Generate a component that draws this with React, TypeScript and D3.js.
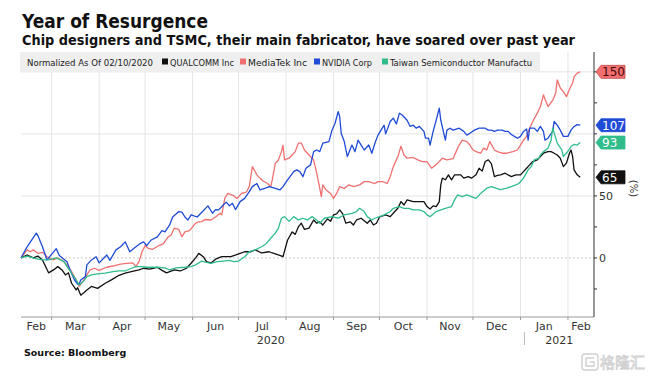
import React from "react";
import * as d3 from "d3";

const W = 656;
const H = 377;

const title = "Year of Resurgence";
const subtitle = "Chip designers and TSMC, their main fabricator, have soared over past year";
const legendNote = "Normalized As Of 02/10/2020";
const source = "Source: Bloomberg";
const seriesNames = ["QUALCOMM Inc", "MediaTek Inc", "NVIDIA Corp", "Taiwan Semiconductor Manufactu"];
const seriesColors = ["#111111", "#f07070", "#1f4bd6", "#30bd8b"];
const calloutText = ["#ffffff", "#4a0a0a", "#ffffff", "#ffffff"];
const yTicksLabelled = [0, 50];
const yGrid = [0, 50, 100, 150];
const yTicksMinor = [-25, 0, 25, 50, 75, 100, 125, 150];

type P = [string, number];

const qualcomm: P[] = [
  ["2020-02-10",0],["2020-02-14",2.4],["2020-02-18",0],["2020-02-21",1.5],["2020-02-24",-1.6],["2020-02-28",-12],
  ["2020-03-03",-9],["2020-03-05",-7],["2020-03-08",-10],["2020-03-10",-13.7],["2020-03-12",-12],["2020-03-14",-20.4],
  ["2020-03-17",-25.8],["2020-03-18",-24],["2020-03-20",-30],["2020-03-22",-28],["2020-03-24",-25.8],["2020-03-27",-23],
  ["2020-03-31",-24.5],["2020-04-05",-20.4],["2020-04-09",-17.7],["2020-04-14",-14],["2020-04-18",-12.3],["2020-04-22",-11],
  ["2020-04-27",-9.7],["2020-04-30",-8.3],["2020-05-04",-9],["2020-05-09",-7.5],["2020-05-12",-10],["2020-05-15",-12],
  ["2020-05-20",-9.7],["2020-05-24",-10.5],["2020-05-28",-8.3],["2020-05-31",-4.3],["2020-06-03",0],["2020-06-05",3.7],
  ["2020-06-08",1],["2020-06-10",-3],["2020-06-13",-4],["2020-06-16",-1],["2020-06-20",1],["2020-06-26",1],
  ["2020-07-02",3.7],["2020-07-05",5],["2020-07-09",5],["2020-07-12",6.5],["2020-07-16",4],["2020-07-21",5],
  ["2020-07-23",4],["2020-07-27",2.4],["2020-07-30",1],["2020-08-02",14.5],["2020-08-05",21],["2020-08-07",19],
  ["2020-08-09",25],["2020-08-11",28],["2020-08-13",23],["2020-08-16",24],["2020-08-19",30.6],["2020-08-21",28],
  ["2020-08-23",29],["2020-08-25",26.6],["2020-08-28",31.5],["2020-08-30",29.5],["2020-09-01",34.7],["2020-09-03",35.5],
  ["2020-09-05",38.7],["2020-09-07",35.5],["2020-09-09",28],["2020-09-12",29],["2020-09-14",26.6],["2020-09-16",30.6],
  ["2020-09-19",32],["2020-09-23",28],["2020-09-25",30.6],["2020-09-27",26.6],["2020-09-29",28],["2020-10-01",33],
  ["2020-10-05",34.7],["2020-10-08",33.3],["2020-10-11",37.4],["2020-10-13",40],["2020-10-15",45.4],["2020-10-17",42.7],
  ["2020-10-19",46.8],["2020-10-23",45.4],["2020-10-27",45.4],["2020-10-30",45.4],["2020-11-01",41.4],["2020-11-03",39.5],
  ["2020-11-05",42],["2020-11-07",41.4],["2020-11-09",45.4],["2020-11-10",58.9],["2020-11-11",64.3],["2020-11-13",63],
  ["2020-11-15",67],["2020-11-17",63],["2020-11-19",67],["2020-11-23",67],["2020-11-25",64.3],["2020-11-28",65.5],
  ["2020-11-30",64.3],["2020-12-03",67],["2020-12-05",72.3],["2020-12-07",70],["2020-12-09",77.7],["2020-12-11",79],
  ["2020-12-13",76],["2020-12-15",65.5],["2020-12-17",66.5],["2020-12-19",67],["2020-12-22",68.3],["2020-12-26",65.5],
  ["2020-12-29",67],["2021-01-01",67],["2021-01-03",69.6],["2021-01-05",72.3],["2021-01-07",75],["2021-01-09",77.7],
  ["2021-01-12",79],["2021-01-14",81.7],["2021-01-16",84.4],["2021-01-19",85.7],["2021-01-21",85.7],["2021-01-23",84.4],
  ["2021-01-25",83],["2021-01-27",80.4],["2021-01-29",73.6],["2021-01-31",76.4],["2021-02-02",84.4],["2021-02-03",87],
  ["2021-02-04",82],["2021-02-05",71],["2021-02-07",67],["2021-02-09",65],
];

const mediatek: P[] = [
  ["2020-02-10",0],["2020-02-14",6.5],["2020-02-16",5],["2020-02-18",6.5],["2020-02-21",3.7],["2020-02-24",4.5],
  ["2020-02-27",1],["2020-03-02",-1.6],["2020-03-05",0],["2020-03-09",-3],["2020-03-12",-7],["2020-03-14",-11],
  ["2020-03-17",-17.7],["2020-03-19",-23],["2020-03-22",-17.7],["2020-03-24",-13.7],["2020-03-26",-9.7],["2020-03-29",-8.3],
  ["2020-04-01",-10],["2020-04-06",-7.5],["2020-04-10",-6.5],["2020-04-15",-5],["2020-04-19",-4.3],["2020-04-23",-4],
  ["2020-04-25",-7],["2020-04-27",-3],["2020-04-29",5],["2020-05-01",10],["2020-05-03",7.8],["2020-05-06",7],
  ["2020-05-10",10],["2020-05-13",11.5],["2020-05-16",17],["2020-05-18",18.5],["2020-05-20",24],["2020-05-23",23],
  ["2020-05-25",17],["2020-05-27",21],["2020-05-30",22],["2020-06-03",28],["2020-06-05",29],["2020-06-07",29.3],
  ["2020-06-09",31],["2020-06-13",30.6],["2020-06-16",33],["2020-06-19",36],["2020-06-20",34.7],["2020-06-22",48],
  ["2020-06-24",52],["2020-06-28",50],["2020-06-30",48],["2020-07-03",52],["2020-07-06",53],["2020-07-08",57.5],
  ["2020-07-09",65.5],["2020-07-10",73.6],["2020-07-13",67],["2020-07-15",64.3],["2020-07-17",62],["2020-07-20",60],
  ["2020-07-22",57.5],["2020-07-23",63],["2020-07-25",76.4],["2020-07-27",79],["2020-07-29",85.7],["2020-07-30",91],
  ["2020-07-31",79],["2020-08-03",80.4],["2020-08-05",83],["2020-08-07",85.7],["2020-08-09",92.5],["2020-08-11",92.5],
  ["2020-08-13",87],["2020-08-16",83],["2020-08-19",79],["2020-08-21",68.3],["2020-08-23",56.2],["2020-08-24",49.4],
  ["2020-08-25",58.9],["2020-08-27",55],["2020-08-30",52],["2020-09-01",48],["2020-09-03",52],["2020-09-05",57.5],
  ["2020-09-08",56],["2020-09-11",58.9],["2020-09-14",57.5],["2020-09-18",58.9],["2020-09-21",61.5],["2020-09-24",61.5],
  ["2020-09-28",60],["2020-09-30",61.5],["2020-10-03",61.5],["2020-10-06",60],["2020-10-08",65.5],["2020-10-10",73.6],
  ["2020-10-13",81.7],["2020-10-15",90],["2020-10-17",83],["2020-10-19",80.4],["2020-10-23",81],["2020-10-26",79],
  ["2020-10-29",77.7],["2020-11-01",77.7],["2020-11-04",72.3],["2020-11-08",76.4],["2020-11-11",80.4],["2020-11-14",79],
  ["2020-11-18",80],["2020-11-20",85.7],["2020-11-22",91],["2020-11-24",95],["2020-11-27",93.8],["2020-11-29",91],
  ["2020-12-01",87],["2020-12-03",85.7],["2020-12-06",84.4],["2020-12-08",88.5],["2020-12-10",87],["2020-12-12",93.8],
  ["2020-12-15",87],["2020-12-17",85.7],["2020-12-20",84.4],["2020-12-23",84.4],["2020-12-27",85.7],["2020-12-30",87],
  ["2021-01-01",91],["2021-01-03",95],["2021-01-05",98],["2021-01-07",104.6],["2021-01-09",110],["2021-01-12",116.7],
  ["2021-01-14",122],["2021-01-16",131.5],["2021-01-17",128],["2021-01-19",122],["2021-01-22",127],["2021-01-24",132.8],
  ["2021-01-25",143.5],["2021-01-27",137],["2021-01-29",134],["2021-01-31",130],["2021-02-02",136],["2021-02-04",141],
  ["2021-02-05",146],["2021-02-07",149],["2021-02-09",150],
];

const nvidia: P[] = [
  ["2020-02-10",0],["2020-02-14",9],["2020-02-20",20],["2020-02-21",18],["2020-02-24",9],["2020-02-27",-1.6],
  ["2020-03-02",4.5],["2020-03-04",7.5],["2020-03-06",2],["2020-03-09",-1],["2020-03-11",-3],["2020-03-13",-9.7],
  ["2020-03-16",-18],["2020-03-18",-21],["2020-03-19",-21],["2020-03-20",-17.7],["2020-03-23",-15],["2020-03-24",-5.6],
  ["2020-03-27",-1.6],["2020-03-30",1],["2020-04-01",-4],["2020-04-06",2.4],["2020-04-08",-2],["2020-04-12",6.5],
  ["2020-04-15",9],["2020-04-18",13],["2020-04-21",5],["2020-04-24",8],["2020-04-28",11.8],["2020-04-30",13],
  ["2020-05-02",10],["2020-05-05",14.5],["2020-05-09",17],["2020-05-12",22],["2020-05-14",21],["2020-05-17",26.6],
  ["2020-05-19",33],["2020-05-23",37.4],["2020-05-25",37],["2020-05-27",33],["2020-05-29",30.6],["2020-05-31",34.7],
  ["2020-06-04",33],["2020-06-08",38],["2020-06-11",42],["2020-06-14",36],["2020-06-16",39],["2020-06-18",38.7],
  ["2020-06-21",42.7],["2020-06-23",45],["2020-06-25",42],["2020-06-27",44],["2020-06-29",39],["2020-07-02",45.4],
  ["2020-07-05",48],["2020-07-08",53.5],["2020-07-10",57.5],["2020-07-13",60],["2020-07-15",54.8],["2020-07-18",56],
  ["2020-07-21",57.5],["2020-07-25",56],["2020-07-28",54.8],["2020-07-30",57.5],["2020-08-02",63],["2020-08-06",69.6],
  ["2020-08-08",71],["2020-08-10",69.6],["2020-08-12",65.5],["2020-08-14",72.3],["2020-08-17",75],["2020-08-19",85.7],
  ["2020-08-21",87],["2020-08-23",85.7],["2020-08-25",92.5],["2020-08-29",93.8],["2020-08-31",103],["2020-09-02",108.6],
  ["2020-09-04",118],["2020-09-05",114],["2020-09-06",100.5],["2020-09-08",93.8],["2020-09-10",81.7],["2020-09-13",91],
  ["2020-09-15",85.7],["2020-09-17",95],["2020-09-19",91],["2020-09-21",87],["2020-09-24",91],["2020-09-26",84.4],
  ["2020-09-28",92.5],["2020-09-30",99],["2020-10-02",103],["2020-10-04",107],["2020-10-05",100],["2020-10-08",110],
  ["2020-10-10",112.7],["2020-10-12",108],["2020-10-14",116.7],["2020-10-16",115],["2020-10-19",111],["2020-10-21",106],
  ["2020-10-23",107],["2020-10-25",104.6],["2020-10-27",106],["2020-10-30",102],["2020-10-31",96.5],["2020-11-02",96.5],
  ["2020-11-03",91],["2020-11-05",102],["2020-11-07",111],["2020-11-09",120.7],["2020-11-10",111],["2020-11-13",95],
  ["2020-11-14",103],["2020-11-16",104.6],["2020-11-18",103],["2020-11-22",104.6],["2020-11-25",102],["2020-11-27",99],
  ["2020-11-29",100.5],["2020-12-02",103],["2020-12-05",104.6],["2020-12-09",104.6],["2020-12-11",103],["2020-12-13",103],
  ["2020-12-15",102],["2020-12-17",103],["2020-12-20",103],["2020-12-22",102],["2020-12-24",102],["2020-12-26",99.5],
  ["2020-12-28",98],["2020-12-30",96.5],["2021-01-01",98],["2021-01-03",102],["2021-01-05",104],["2021-01-06",95],
  ["2021-01-07",104.6],["2021-01-10",104.6],["2021-01-12",102],["2021-01-14",106],["2021-01-16",102],["2021-01-17",95],
  ["2021-01-19",96.5],["2021-01-22",102],["2021-01-23",110],["2021-01-25",107],["2021-01-27",103],["2021-01-29",98],
  ["2021-02-01",98],["2021-02-03",103],["2021-02-05",106],["2021-02-07",107.5],["2021-02-09",107],
];

const tsmc: P[] = [
  ["2020-02-10",0],["2020-02-14",1.5],["2020-02-18",0],["2020-02-21",-1],["2020-02-24",-1.6],["2020-02-28",-1.6],
  ["2020-03-04",0],["2020-03-09",-3],["2020-03-11",-7],["2020-03-14",-12.3],["2020-03-17",-17.7],["2020-03-19",-21.8],
  ["2020-03-22",-18.5],["2020-03-24",-15],["2020-03-27",-13.7],["2020-03-31",-12.8],["2020-04-05",-12.3],["2020-04-10",-11],
  ["2020-04-14",-10.5],["2020-04-18",-10.5],["2020-04-22",-8.3],["2020-04-25",-7],["2020-04-29",-7],["2020-05-02",-7.5],
  ["2020-05-08",-7.5],["2020-05-14",-8],["2020-05-17",-9.7],["2020-05-21",-8],["2020-05-27",-7.5],["2020-05-31",-7],
  ["2020-06-03",-5.6],["2020-06-07",-2.5],["2020-06-10",-3.5],["2020-06-13",-4.3],["2020-06-17",-3],["2020-06-21",-2.5],
  ["2020-06-25",-2],["2020-06-28",-3],["2020-07-01",-2.5],["2020-07-05",1],["2020-07-08",5],["2020-07-12",6.5],
  ["2020-07-16",9],["2020-07-19",11.5],["2020-07-22",15.9],["2020-07-25",20],["2020-07-27",24],["2020-07-29",32],
  ["2020-07-31",33.3],["2020-08-03",29.5],["2020-08-06",33.3],["2020-08-09",30.6],["2020-08-12",32],["2020-08-15",30.6],
  ["2020-08-18",33.3],["2020-08-21",30.6],["2020-08-23",28],["2020-08-26",32],["2020-08-31",33.3],["2020-09-04",32],
  ["2020-09-08",34.7],["2020-09-13",36],["2020-09-16",37.4],["2020-09-18",40],["2020-09-21",37.4],["2020-09-23",33.3],
  ["2020-09-26",30.6],["2020-09-28",32],["2020-10-01",33.3],["2020-10-04",34.7],["2020-10-08",37.4],["2020-10-10",40],
  ["2020-10-14",41.4],["2020-10-17",40],["2020-10-20",40],["2020-10-23",38.7],["2020-10-27",38.7],["2020-10-30",37.4],
  ["2020-11-01",34.7],["2020-11-03",33.3],["2020-11-07",37.4],["2020-11-10",38.7],["2020-11-13",40],["2020-11-17",41.4],
  ["2020-11-19",46.8],["2020-11-21",50.8],["2020-11-24",49.5],["2020-11-27",50.8],["2020-11-30",49.5],["2020-12-03",48],
  ["2020-12-06",52],["2020-12-10",56.2],["2020-12-13",57.5],["2020-12-16",56.2],["2020-12-19",55],["2020-12-23",56.2],
  ["2020-12-26",57.5],["2020-12-29",58.9],["2020-12-31",60],["2021-01-03",64.3],["2021-01-06",71],["2021-01-08",73.6],
  ["2021-01-10",79],["2021-01-13",80.4],["2021-01-14",83],["2021-01-16",85.7],["2021-01-19",88.5],["2021-01-21",95],
  ["2021-01-22",104.6],["2021-01-23",101],["2021-01-25",92.5],["2021-01-28",87],["2021-01-29",81.7],["2021-02-01",86],
  ["2021-02-03",89.8],["2021-02-05",91.5],["2021-02-07",91],["2021-02-09",93],
];

const allSeries = [qualcomm, mediatek, nvidia, tsmc];
const parse = d3.timeParse("%Y-%m-%d");

export default function App() {
  const left = 21, right = 594, top = 52, bottom = 317;
  const x = d3.scaleTime().domain([new Date(2020, 1, 10), new Date(2021, 1, 18)]).range([left, right]);
  const y = d3.scaleLinear().domain([-47.6, 166]).range([bottom, top]);
  const line = d3.line<P>().x((d) => x(parse(d[0]) as Date)).y((d) => y(d[1]));

  const monthStarts = d3.timeMonth.range(new Date(2020, 2, 1), new Date(2021, 1, 2));
  const monthBounds = [x.domain()[0], ...monthStarts, x.domain()[1]];
  const monthLabels = monthBounds.slice(0, -1).map((d, i) => {
    const a = x(d), b = x(monthBounds[i + 1]);
    return { label: d3.timeFormat("%b")(d), cx: (a + b) / 2 };
  });
  const jan2021 = x(new Date(2021, 0, 1));

  const legendX = [162, 240, 314, 382];
  const legendW = [64, 59, 50, 142];
  const font = "'DejaVu Sans', sans-serif";
  const condensed = "'DejaVu Sans Condensed', 'DejaVu Sans', sans-serif";

  return (
    <svg width={W} height={H} style={{ position: "absolute", left: 0, top: 0, background: "#fff" }}>
      <rect width={W} height={H} fill="#fff" />
      <text x={22} y={28} fontFamily={font} fontWeight={700} fontSize={19} fill="#111"
        textLength={186} lengthAdjust="spacingAndGlyphs">{title}</text>
      <text x={22} y={45} fontFamily={font} fontWeight={700} fontSize={14.5} fill="#111"
        textLength={553} lengthAdjust="spacingAndGlyphs">{subtitle}</text>

      {/* grid */}
      {monthStarts.map((d, i) => (
        <line key={"vg" + i} x1={x(d)} x2={x(d)} y1={top} y2={bottom} stroke="#e4e4e4" strokeWidth={1} />
      ))}
      {yGrid.map((v) => (
        <line key={"hg" + v} x1={left} x2={right} y1={y(v)} y2={y(v)} stroke={v === 0 ? "#c8c8c8" : "#e4e4e4"}
          strokeWidth={1} strokeDasharray={v === 0 ? "2,2" : undefined} />
      ))}

      {/* legend */}
      <rect x={20} y={52} width={520} height={20} fill="#efefef" />
      <text x={27} y={66} fontFamily={condensed} fontStretch="condensed" fontSize={9} fill="#222"
        textLength={126} lengthAdjust="spacingAndGlyphs">{legendNote}</text>
      {seriesNames.map((n, i) => (
        <g key={n}>
          <rect x={legendX[i]} y={58.5} width={6} height={6} fill={seriesColors[i]} />
          <text x={legendX[i] + 8} y={66} fontFamily={condensed} fontStretch="condensed" fontSize={9} fill="#222"
            textLength={legendW[i]} lengthAdjust="spacingAndGlyphs">{n}</text>
        </g>
      ))}

      {/* lines */}
      {allSeries.map((s, i) => (
        <path key={"l" + i} d={line(s) ?? ""} fill="none" stroke={seriesColors[i]} strokeWidth={1.3} strokeLinejoin="round" />
      ))}

      {/* x axis */}
      <line x1={left} x2={right} y1={bottom} y2={bottom} stroke="#999" strokeWidth={1} />
      {monthStarts.map((d, i) => (
        <line key={"xt" + i} x1={x(d)} x2={x(d)} y1={bottom} y2={bottom + 3} stroke="#999" />
      ))}
      {monthLabels.map((m, i) => (
        <text key={"ml" + i} x={m.cx} y={330} textAnchor="middle" fontFamily={font} fontSize={11} fill="#333">{m.label}</text>
      ))}
      <text x={(left + jan2021) / 2} y={344} textAnchor="middle" fontFamily={font} fontSize={11} fill="#333">2020</text>
      <text x={(jan2021 + right) / 2 + 2} y={344} textAnchor="middle" fontFamily={font} fontSize={11} fill="#333">2021</text>
      <line x1={jan2021 + 4} x2={jan2021 + 4} y1={332} y2={345} stroke="#bbb" />

      {/* right axis */}
      <line x1={right} x2={right} y1={top} y2={bottom} stroke="#333" strokeWidth={1} />
      {yTicksMinor.map((v) => (
        <line key={"yt" + v} x1={right} x2={right + 3} y1={y(v)} y2={y(v)} stroke="#333" />
      ))}
      {yTicksLabelled.map((v) => (
        <text key={"yl" + v} x={599} y={y(v) + 4} fontFamily={font} fontSize={11} fill="#333">{v}</text>
      ))}
      <text transform={`translate(630,${y(56)}) rotate(90)`} textAnchor="middle" fontFamily={font} fontSize={10} fill="#333">(%)</text>

      {/* callouts */}
      {allSeries.map((s, i) => {
        const v = s[s.length - 1][1];
        const cy = y(v);
        const x0 = 596;
        const d = `M${x0},${cy} L${x0 + 5},${cy - 6.5} L${x0 + 29},${cy - 6.5} L${x0 + 29},${cy + 6.5} L${x0 + 5},${cy + 6.5} Z`;
        return (
          <g key={"c" + i}>
            <path d={d} fill={seriesColors[i]} stroke={i === 1 ? "#c84848" : seriesColors[i]} strokeWidth={0.8} />
            <text x={x0 + 6} y={cy + 4.5} fontFamily={font} fontSize={12} fill={calloutText[i]}>{Math.round(v)}</text>
          </g>
        );
      })}

      <text x={24} y={356} fontFamily={font} fontWeight={700} fontSize={9.5} fill="#111">{source}</text>

      {/* watermark */}
      <g opacity={0.8}>
        <rect x={582} y={354} width={16} height={16} rx={3} fill="none" stroke="#c4c4c4" strokeWidth={1.4} />
        <path d="M594,358 L586,358 L586,366 L594,366 L594,362 L590,362" fill="none" stroke="#c4c4c4" strokeWidth={1.4} />
        <text x={600} y={368} fontFamily="'Noto Sans CJK SC', sans-serif" fontSize={15} fill="#fff" stroke="#c4c4c4" strokeWidth={0.8}>格隆汇</text>
      </g>
    </svg>
  );
}
